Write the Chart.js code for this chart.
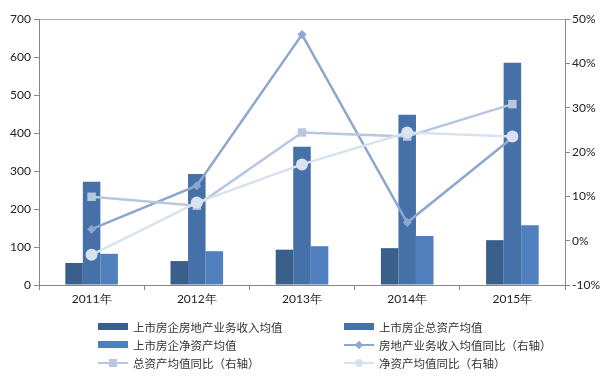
<!DOCTYPE html>
<html><head><meta charset="utf-8">
<script src="https://cdn.jsdelivr.net/npm/chart.js@4/dist/chart.umd.min.js"></script>
<style>
html,body{margin:0;padding:0;background:#fff;}
#wrap{position:relative;width:610px;height:384px;}
#c{position:absolute;left:0;top:0;}
.lg{position:absolute;height:18px;font:11.5px "Noto Sans CJK SC","Noto Sans",sans-serif;color:#333;line-height:18px;white-space:nowrap;}
.sw{position:absolute;left:0;top:5px;width:30px;height:7px;}
.ln{position:absolute;left:0;top:8px;width:30px;height:2px;}
.mk{position:absolute;}
.tx{position:absolute;left:35px;top:0;}
</style></head>
<body><div id="wrap"><canvas id="c" width="610" height="384"></canvas></div>
<script>
const categories = ['2011年','2012年','2013年','2014年','2015年'];
const revenueAvg = [58, 63, 93, 97, 118];
const totalAssetAvg = [272, 292, 364, 448, 585];
const netAssetAvg = [82, 89, 102, 129, 157];
const revenueYoY = [2.6, 12.4, 46.5, 4.1, 23.2];
const totalAssetYoY = [9.9, 7.9, 24.4, 23.5, 30.8];
const netAssetYoY = [-3.2, 8.6, 17.2, 24.4, 23.5];
const seriesNames = ['上市房企房地产业务收入均值','上市房企总资产均值','上市房企净资产均值','房地产业务收入均值同比（右轴）','总资产均值同比（右轴）','净资产均值同比（右轴）'];
const leftTicks = [0,100,200,300,400,500,600,700];
const rightTicks = [-10,0,10,20,30,40,50];

const colors = ['#3b5f8b','#4571a8','#4f80bd','#8ea7cf','#b8c7e0','#dae2ef'];
const markers = ['rectRot','rect','circle'];
const markerR = [4.5,6,6];

const datasets = [
  {type:'bar',label:seriesNames[0],data:revenueAvg,backgroundColor:colors[0],yAxisID:'y',order:2},
  {type:'bar',label:seriesNames[1],data:totalAssetAvg,backgroundColor:colors[1],yAxisID:'y',order:2},
  {type:'bar',label:seriesNames[2],data:netAssetAvg,backgroundColor:colors[2],yAxisID:'y',order:2},
];
[revenueYoY,totalAssetYoY,netAssetYoY].forEach((d,i)=>{
  datasets.push({type:'line',label:seriesNames[3+i],data:d,borderColor:colors[3+i],backgroundColor:colors[3+i],
    borderWidth:2.5,pointStyle:markers[i],pointRadius:markerR[i],pointBorderWidth:0,yAxisID:'y1',order:1-i*0.1,tension:0});
});

const font = {family:'Lato, "DejaVu Sans", sans-serif', size:12};
new Chart(document.getElementById('c'),{
  data:{labels:categories,datasets},
  options:{
    responsive:false,animation:false,
    layout:{padding:{top:19,left:0,right:0,bottom:0}},
    plugins:{legend:{display:false},tooltip:{enabled:false}},
    datasets:{bar:{categoryPercentage:0.5,barPercentage:1}},
    scales:{
      x:{offset:true,grid:{offset:true,drawOnChartArea:false,color:'#888',tickLength:5},
         border:{color:'#888'},ticks:{color:'#222',font,padding:2},
         afterFit:s=>{s.height=99;}},
      y:{position:'left',min:0,max:700,
         afterBuildTicks:s=>{s.ticks=leftTicks.map(v=>({value:v}));},
         grid:{color:c=>c.tick&&c.tick.value===700?'#aaa':'rgba(0,0,0,0)',tickColor:'#888',tickLength:5},
         border:{color:'#888'},ticks:{color:'#222',font,padding:3},
         afterFit:s=>{s.width=39;}},
      y1:{position:'right',min:-10,max:50,
         afterBuildTicks:s=>{s.ticks=rightTicks.map(v=>({value:v}));},
         grid:{drawOnChartArea:false,color:'#888',tickLength:5},
         border:{color:'#888'},ticks:{color:'#222',font,padding:2,callback:v=>v+'%'},
         afterFit:s=>{s.width=45;}}
    }
  }
});

// HTML legend
const wrap=document.getElementById('wrap');
const pos=[[98,318],[344,318],[98,336],[344,336],[98,354],[344,354]];
seriesNames.forEach((n,i)=>{
  const d=document.createElement('div');d.className='lg';
  d.style.left=pos[i][0]+'px';d.style.top=pos[i][1]+'px';
  let h='';
  if(i<3){h+=`<div class="sw" style="background:${colors[i]}"></div>`;}
  else{
    const k=i-3;
    h+=`<div class="ln" style="background:${colors[i]}"></div>`;
    if(k===0)h+=`<div class="mk" style="left:12px;top:6px;width:6px;height:6px;background:${colors[i]};transform:rotate(45deg)"></div>`;
    if(k===1)h+=`<div class="mk" style="left:11px;top:5px;width:8px;height:8px;background:${colors[i]}"></div>`;
    if(k===2)h+=`<div class="mk" style="left:11px;top:5px;width:8px;height:8px;border-radius:50%;background:${colors[i]}"></div>`;
  }
  h+=`<span class="tx">${n}</span>`;
  d.innerHTML=h;wrap.appendChild(d);
});
</script></body></html>
